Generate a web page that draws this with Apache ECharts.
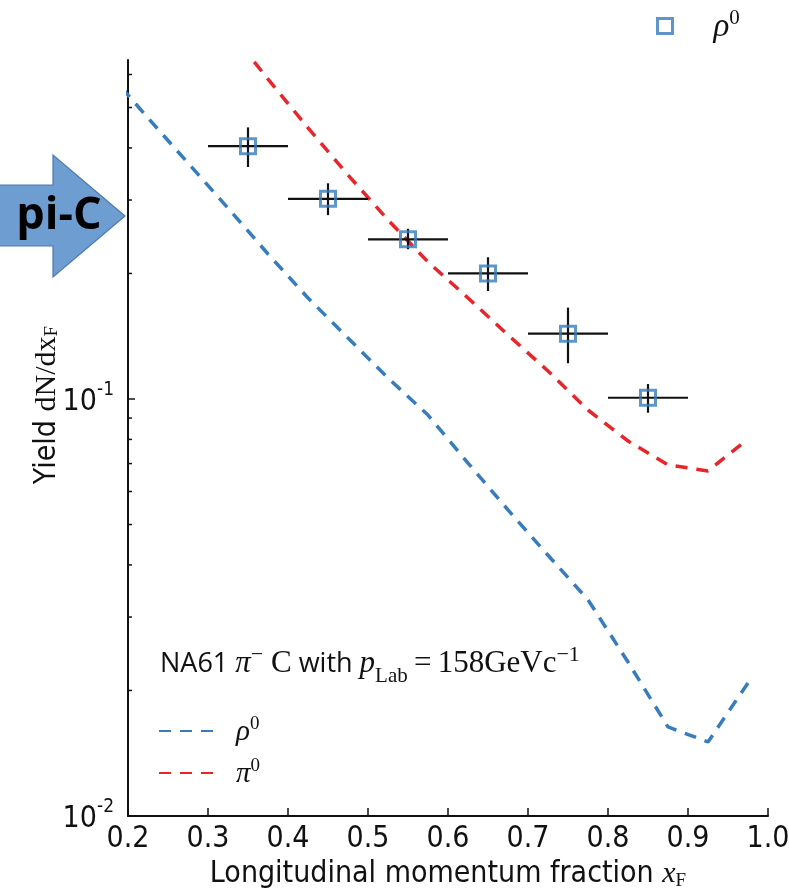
<!DOCTYPE html>
<html>
<head>
<meta charset="utf-8">
<script src="https://cdn.jsdelivr.net/npm/echarts@6/dist/echarts.min.js"></script>
<style>
  html, body { margin: 0; padding: 0; background: #fff; }
  #chart { width: 789px; height: 892px; }
</style>
</head>
<body>
<div id="chart"></div>
<script>
// Model curves (bin centres in x_F)
const rhoModelX = [0.175, 0.225, 0.275, 0.325, 0.375, 0.425, 0.475, 0.525, 0.575, 0.625, 0.675, 0.725, 0.775, 0.825, 0.875, 0.925, 0.975];
const rhoModelY = [0.608, 0.472, 0.368, 0.287, 0.2227, 0.1747, 0.140, 0.1123, 0.0915, 0.0702, 0.0542, 0.0422, 0.0330, 0.0234, 0.01635, 0.01505, 0.02085];
const piModelX = [0.325, 0.375, 0.425, 0.475, 0.525, 0.575, 0.625, 0.675, 0.725, 0.775, 0.825, 0.875, 0.925, 0.975];
const piModelY = [0.771, 0.585, 0.447, 0.3445, 0.2687, 0.2131, 0.1747, 0.1424, 0.1167, 0.0941, 0.0793, 0.0695, 0.0672, 0.0802];

// Measured rho0 yields with uncertainties
const dataX = [0.35, 0.45, 0.55, 0.65, 0.75, 0.85];
const dataY = [0.404, 0.302, 0.2415, 0.200, 0.1434, 0.1007];
const dataYLow = [0.360, 0.276, 0.2286, 0.1815, 0.1218, 0.0927];
const dataYHigh = [0.448, 0.329, 0.256, 0.2187, 0.1656, 0.1086];
const dataXHalfWidth = [0.05, 0.05, 0.05, 0.05, 0.05, 0.05];

// Axis ticks
const xTicks = [0.2, 0.3, 0.4, 0.5, 0.6, 0.7, 0.8, 0.9, 1.0];
const yMajorTicks = [0.01, 0.1];
const yMinorTicks = [0.02, 0.03, 0.04, 0.05, 0.06, 0.07, 0.08, 0.09, 0.2, 0.3, 0.4, 0.5, 0.6];

const BLUE = '#377cbd';
const RED = '#e8252a';
const SANS_NARROW = '"Liberation Sans Narrow", "DejaVu Sans Condensed", "Roboto", sans-serif';
const SANS = '"Open Sans", "Noto Sans", sans-serif';
const SERIF = '"Liberation Serif", "DejaVu Serif", serif';

const chart = echarts.init(document.getElementById('chart'), null, { renderer: 'canvas' });

const zip = (xs, ys) => xs.map((x, i) => [x, ys[i]]);

const errData = dataX.map((x, i) => [x, dataY[i], x - dataXHalfWidth[i], x + dataXHalfWidth[i], dataYLow[i], dataYHigh[i]]);
const yTickData = yMajorTicks.map(v => [xTicks[0], v, 1]).concat(yMinorTicks.map(v => [xTicks[0], v, 0]));

const option = {
  animation: false,
  backgroundColor: '#ffffff',
  grid: { left: 128, right: 21, top: 60, bottom: 76, containLabel: false, outerBoundsMode: 'none' },
  xAxis: {
    type: 'value',
    min: 0.2,
    max: 1.0,
    interval: 0.1,
    axisLine: { show: true, onZero: false, lineStyle: { color: '#111', width: 2 } },
    axisTick: { show: true, inside: true, length: 8, lineStyle: { color: '#111', width: 1.5 } },
    splitLine: { show: false },
    axisLabel: {
      margin: 8,
      fontFamily: SANS_NARROW,
      fontSize: 30,
      color: '#111',
      formatter: v => v.toFixed(1)
    },
    name: '{a|Longitudinal momentum fraction }{x|x}{f|F}',
    nameLocation: 'middle',
    nameGap: 40,
    nameTextStyle: {
      rich: {
        a: { fontFamily: SANS_NARROW, fontSize: 30, color: '#111', lineHeight: 34 },
        x: { fontFamily: SERIF, fontStyle: 'italic', fontSize: 30, color: '#111', lineHeight: 34 },
        f: { fontFamily: SERIF, fontSize: 19, color: '#111', verticalAlign: 'bottom', lineHeight: 26 }
      }
    }
  },
  yAxis: {
    type: 'log',
    logBase: 10,
    min: 0.01,
    max: 0.65,
    axisLine: { show: true, lineStyle: { color: '#111', width: 2 } },
    axisTick: { show: false },
    splitLine: { show: false },
    axisLabel: {
      margin: 14,
      formatter: function (v) {
        const e = Math.round(Math.log10(v));
        if (Math.abs(v / Math.pow(10, e) - 1) < 1e-6) {
          return '{b|10}{s|' + e + '}';
        }
        return '';
      },
      rich: {
        b: { fontFamily: SANS_NARROW, fontSize: 30, color: '#111', lineHeight: 36, verticalAlign: 'bottom' },
        s: { fontFamily: SANS_NARROW, fontSize: 19, color: '#111', lineHeight: 36, verticalAlign: 'top' }
      }
    }
  },
  legend: [
    {
      data: ['rho0 data'],
      left: 651,
      top: 3,
      orient: 'horizontal',
      itemWidth: 15,
      itemHeight: 15,
      itemGap: 10,
      icon: 'rect',
      itemStyle: { color: 'rgba(0,0,0,0)', borderColor: BLUE, borderWidth: 3 },
      formatter: () => '{i|ρ}{s|0}',
      textStyle: {
        padding: [0, 0, 0, 36],
        rich: {
          i: { fontFamily: SERIF, fontStyle: 'italic', fontSize: 33, color: '#111', lineHeight: 36, verticalAlign: 'bottom' },
          s: { fontFamily: SERIF, fontSize: 21, color: '#111', lineHeight: 36, verticalAlign: 'top' }
        }
      }
    },
    {
      data: ['rho0', 'pi0'],
      left: 153,
      top: 710,
      orient: 'vertical',
      itemWidth: 54,
      itemHeight: 14,
      itemGap: 10,
      itemStyle: { opacity: 0 },
      formatter: name => name === 'rho0' ? '{i|ρ}{s|0}' : '{i|π}{s|0}',
      textStyle: {
        padding: [0, 0, 0, 18],
        rich: {
          i: { fontFamily: SERIF, fontStyle: 'italic', fontSize: 29, color: '#111', lineHeight: 32, verticalAlign: 'bottom' },
          s: { fontFamily: SERIF, fontSize: 19, color: '#111', lineHeight: 32, verticalAlign: 'top' }
        }
      }
    }
  ],
  graphic: [
    {
      // "pi-C" arrow on the left margin
      type: 'polygon',
      shape: { points: [[-2, 185], [53, 185], [53, 155], [125, 216], [53, 277], [53, 246], [-2, 246]] },
      style: { fill: '#6e9dd2', stroke: '#4a79b3', lineWidth: 1.2 },
      z: 10
    },
    {
      type: 'text',
      x: 59, y: 216,
      style: {
        text: 'pi-C',
        font: 'bold 45px "Open Sans", "Noto Sans", sans-serif',
        fill: '#000',
        align: 'center',
        verticalAlign: 'middle'
      },
      z: 11
    },
    {
      // y-axis title
      type: 'text',
      x: 42, y: 405,
      rotation: Math.PI / 2,
      style: {
        text: '{a|Yield }{r|dN/dx}{f|F}',
        align: 'center',
        verticalAlign: 'middle',
        rich: {
          a: { fontFamily: SANS_NARROW, fontSize: 30, fill: '#111', lineHeight: 34, verticalAlign: 'bottom' },
          r: { fontFamily: SERIF, fontSize: 30, fill: '#111', lineHeight: 34, verticalAlign: 'bottom' },
          f: { fontFamily: SERIF, fontSize: 19, fill: '#111', lineHeight: 40, verticalAlign: 'bottom' }
        }
      }
    },
    {
      // data set annotation
      type: 'text',
      x: 160, y: 664,
      style: {
        text: '{s|NA61 }{i|π}{u|−}{r| C}{s| with }{i|p}{d|Lab}{r|\u2009=\u2009158GeVc}{u|−1}',
        verticalAlign: 'middle',
        rich: {
          s: { fontFamily: SANS, fontSize: 27, fill: '#111', lineHeight: 40, verticalAlign: 'middle' },
          r: { fontFamily: SERIF, fontSize: 31, fill: '#111', lineHeight: 40, verticalAlign: 'middle' },
          i: { fontFamily: SERIF, fontStyle: 'italic', fontSize: 31, fill: '#111', lineHeight: 40, verticalAlign: 'middle' },
          u: { fontFamily: SERIF, fontSize: 22, fill: '#111', lineHeight: 40, verticalAlign: 'top', padding: [3, 0, 0, 0] },
          d: { fontFamily: SERIF, fontSize: 21, fill: '#111', lineHeight: 46, verticalAlign: 'bottom' }
        }
      }
    }
  ],
  series: [
    {
      name: 'rho0',
      type: 'line',
      data: zip(rhoModelX, rhoModelY),
      showSymbol: false,
      symbol: 'none',
      clip: true,
      lineStyle: { color: BLUE, width: 3.5, type: [12, 9] },
      itemStyle: { color: BLUE },
      z: 3
    },
    {
      name: 'pi0',
      type: 'line',
      data: zip(piModelX, piModelY),
      showSymbol: false,
      symbol: 'none',
      clip: true,
      lineStyle: { color: RED, width: 3.5, type: [12, 9] },
      itemStyle: { color: RED },
      z: 3
    },
    {
      // error bars of the measurement
      name: 'errors',
      type: 'custom',
      data: errData,
      encode: { x: 0, y: 1 },
      renderItem: function (params, api) {
        const x = api.value(0), y = api.value(1);
        const pl = api.coord([api.value(2), y]);
        const pr = api.coord([api.value(3), y]);
        const pb = api.coord([x, api.value(4)]);
        const pt = api.coord([x, api.value(5)]);
        const st = { stroke: '#111', lineWidth: 2.2 };
        return {
          type: 'group',
          children: [
            { type: 'line', shape: { x1: pl[0], y1: pl[1], x2: pr[0], y2: pr[1] }, style: st },
            { type: 'line', shape: { x1: pb[0], y1: pb[1], x2: pt[0], y2: pt[1] }, style: st }
          ]
        };
      },
      z: 4
    },
    {
      name: 'rho0 data',
      type: 'scatter',
      data: zip(dataX, dataY),
      symbol: 'rect',
      symbolSize: 15,
      itemStyle: { color: 'rgba(0,0,0,0)', borderColor: BLUE, borderWidth: 3 },
      z: 5
    },
    {
      // log-axis tick marks at 1..9 x 10^k
      name: 'yticks',
      type: 'custom',
      data: yTickData,
      encode: { x: 0, y: 1 },
      clip: false,
      renderItem: function (params, api) {
        const p = api.coord([api.value(0), api.value(1)]);
        const len = api.value(2) ? 7 : 4;
        return {
          type: 'line',
          shape: { x1: p[0], y1: p[1], x2: p[0] + len, y2: p[1] },
          style: { stroke: '#111', lineWidth: 1.5 }
        };
      },
      z: 6
    }
  ]
};

chart.setOption(option);
</script>
</body>
</html>
